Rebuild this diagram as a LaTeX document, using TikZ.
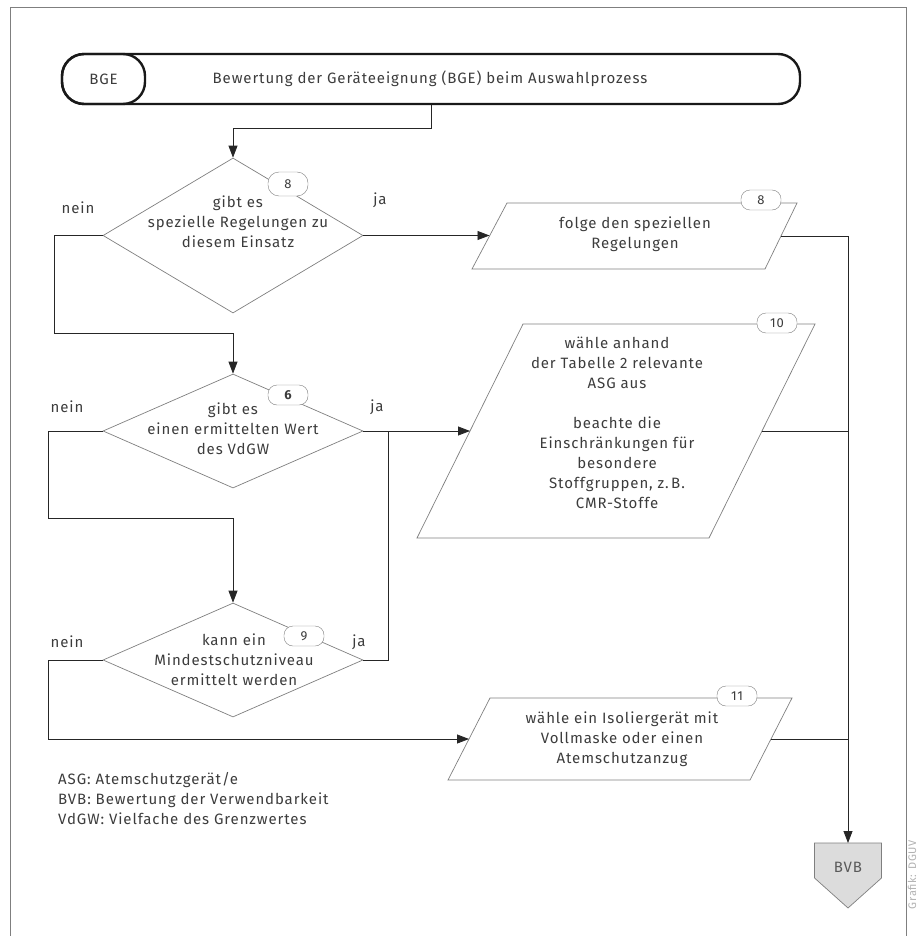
\documentclass[tikz,border=0pt]{standalone}
\usepackage{fontspec}
\setmainfont{Fira Sans}[LetterSpace=6]
\usetikzlibrary{shapes.geometric,arrows.meta}
\definecolor{txtgray}{HTML}{3C3C3C}
\definecolor{linegray}{HTML}{7F7F7F}
\definecolor{bvbfill}{HTML}{DCDCDC}

\begin{document}
\begin{tikzpicture}[x=1pt,y=-1pt,
    every node/.style={text=txtgray,font=\fontsize{15}{20}\selectfont},
    dia/.style={diamond,draw=linegray,line width=0.7pt,minimum width=260pt,inner sep=0pt},
    para/.style={draw=linegray,line width=0.7pt},
    badge/.style={draw=linegray,fill=white,rounded corners=9pt,minimum width=40pt,
      minimum height=20pt,inner sep=0pt,font=\fontsize{13}{15}\selectfont},
    conn/.style={draw=black!85,line width=0.8pt},
    arr/.style={conn,-{Triangle[length=12pt,width=9pt]}},
    txt/.style={align=center}]
  \useasboundingbox (0,0) rectangle (918,936);
  % frame
  \draw[linegray,line width=1pt] (10,940) -- (10,8) -- (906,8) -- (906,940);

  % header
  \node[draw=black!90,line width=2.4pt,rounded corners=22pt,minimum width=738pt,minimum height=50pt] (hdr) at (431,79) {};
  \node[draw=black!90,line width=2.4pt,rounded corners=22pt,minimum width=83pt,minimum height=50pt] (bge) at (103.5,79) {BGE};
  \node (title) at (430,79) {Bewertung der Geräteeignung (BGE) beim Auswahlprozess};

  % decisions
  \node[dia,minimum height=155pt] (d1) at (233,235.5) {};
  \node[txt] (t1) at (238,222) {gibt es\\spezielle Regelungen zu\\diesem Einsatz};
  \node[badge,minimum height=24pt,rounded corners=11pt] (b1) at (288,184) {8};
  \node (n1l) at (78,208) {nein};
  \node (j1l) at (380,200) {ja};

  \node[dia,minimum height=114pt] (d2) at (233,431) {};
  \node[txt] (t2) at (233,429) {gibt es\\einen ermittelten Wert\\des VdGW};
  \node[badge] (b2) at (288,395) {\bfseries 6};
  \node (n2l) at (67,407) {nein};
  \node (j2l) at (377,407) {ja};

  \node[dia,minimum height=114pt] (d3) at (233,660) {};
  \node[txt] (t3) at (234,660) {kann ein\\Mindestschutzniveau\\ermittelt werden};
  \node[badge] (b3) at (304,636) {9};
  \node (n3l) at (67,642) {nein};
  \node (j3l) at (359,642) {ja};

  % actions
  \draw[para,shift={(635,236)}] (-163,33) -- (130,33) -- (162,-33) -- (-128,-33) -- cycle
    (-145.5,0) coordinate (p1in) (146,0) coordinate (p1out);
  \node[txt] (a1) at (635,234) {folge den speziellen\\Regelungen};
  \node[badge] (b4) at (761,200) {8};

  \draw[para,shift={(616,431)}] (-199,107) -- (93,107) -- (199,-107) -- (-93,-107) -- cycle
    (-146,0) coordinate (p2in) (146,0) coordinate (p2out);
  \node[txt] (a2) at (617,423) {wähle anhand\\der Tabelle 2 relevante\\ASG aus\\[20pt]beachte die\\Einschränkungen für\\besondere\\Stoffgruppen, z.\,B.\\CMR-Stoffe};
  \node[badge] (b5) at (777,323) {10};

  \draw[para,shift={(620,739)}] (-172,41) -- (130,41) -- (172,-41) -- (-130,-41) -- cycle
    (-151,0) coordinate (p3in) (151,0) coordinate (p3out);
  \node[txt] (a3) at (622,739) {wähle ein Isoliergerät mit\\Vollmaske oder einen\\Atemschutzanzug};
  \node[badge] (b6) at (737,696) {11};

  % end
  \draw[draw=linegray,fill=bvbfill,line width=0.7pt,shift={(848,843)}]
    (-33.5,0) -- (33.5,0) -- (33.5,35) -- (0,65) -- (-33.5,35) -- cycle
    (0,0) coordinate (bvbin);
  \node[text=black!65] (bvb) at (848,867) {BVB};

  % connectors
  \coordinate (k1) at (431,128);
  \draw[arr] (hdr.south) |- (k1) -| (d1.north);
  \draw[arr] (d1.east) -- (d1.east -| p1in);
  \coordinate (k2) at (54,333);
  \draw[arr] (d1.west) -| (k2) -| (d2.north);
  \draw[arr] (d2.east) -- (p2in);
  \coordinate (k3) at (48,518);
  \draw[arr] (d2.west) -| (k3) -| (d3.north);
  \coordinate (k4) at (388,431);
  \draw[conn] (d3.east) -| (k4);
  \coordinate (k5) at (48,739);
  \draw[arr] (d3.west) -| (k5) -- (p3in);
  \coordinate (k6) at (848,236);
  \draw[conn] (p1out) -- (k6);
  \draw[arr] (k6) -- (bvbin);
  \draw[conn] (p2out) -- (p2out -| k6);
  \draw[conn] (p3out) -- (p3out -| k6);

  % legend
  \node[anchor=north west,align=left,inner sep=0pt] (leg) at (58,772) {ASG: Atemschutzgerät/e\\BVB: Bewertung der Verwendbarkeit\\VdGW: Vielfache des Grenzwertes};
  \node[rotate=90,anchor=east,inner sep=0pt,text=gray!60,font=\fontsize{11}{13}\selectfont] (src) at (912,840) {Grafik: DGUV};
\end{tikzpicture}
\end{document}
